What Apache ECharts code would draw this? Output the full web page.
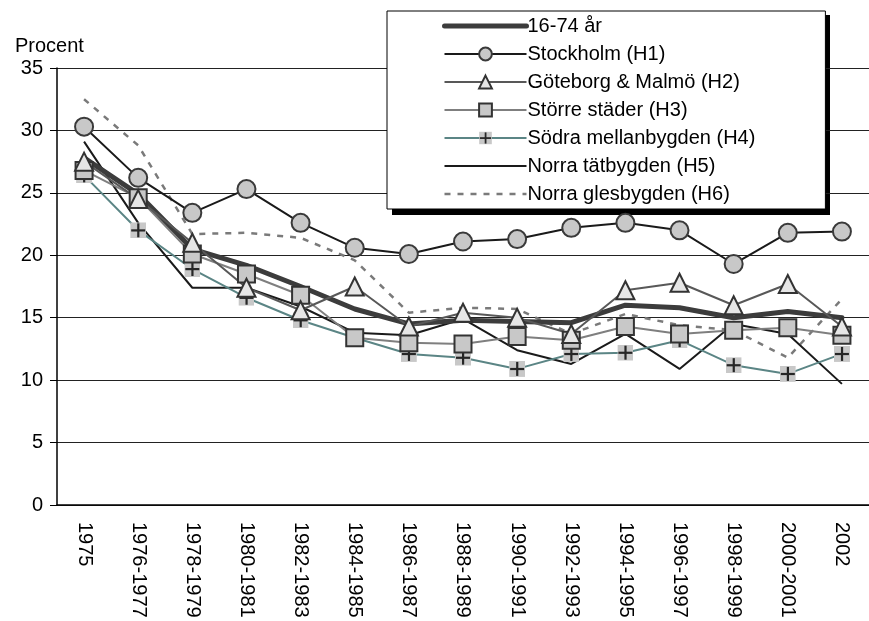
<!DOCTYPE html>
<html>
<head>
<meta charset="utf-8">
<script src="https://cdn.jsdelivr.net/npm/echarts@6/dist/echarts.min.js"></script>
<style>
html, body { margin: 0; padding: 0; background: #fff; }
#chart { width: 869px; height: 621px; }
</style>
</head>
<body>
<div id="chart"></div>
<script>
"use strict";

/*****Data*****/
var periods = ["1975", "1976-1977", "1978-1979", "1980-1981", "1982-1983", "1984-1985", "1986-1987",
	"1988-1989", "1990-1991", "1992-1993", "1994-1995", "1996-1997", "1998-1999", "2000-2001", "2002"];
var yTicks = [0, 5, 10, 15, 20, 25, 30, 35];

var total = [27.8, 24.9, 20.5, 19.2, 17.5, 15.7, 14.5, 14.8, 14.7, 14.6, 16.0, 15.8, 15.0, 15.5, 15.0];
var stockholm = [30.3, 26.2, 23.4, 25.3, 22.6, 20.6, 20.1, 21.1, 21.3, 22.2, 22.6, 22.0, 19.3, 21.8, 21.9];
var goteborg = [27.5, 24.5, 21.0, 17.4, 15.6, 17.5, 14.3, 15.4, 15.0, 13.7, 17.2, 17.8, 16.0, 17.7, 14.3];
var storre = [26.8, 24.6, 20.1, 18.5, 16.8, 13.4, 13.0, 12.9, 13.5, 13.2, 14.3, 13.7, 14.0, 14.2, 13.6];
var sodra = [26.4, 22.0, 18.9, 16.6, 14.8, 13.4, 12.1, 11.8, 10.9, 12.1, 12.2, 13.2, 11.2, 10.5, 12.1];
var norraTat = [29.1, 22.6, 17.4, 17.4, 15.9, 13.8, 13.6, 14.9, 12.4, 11.3, 13.7, 10.9, 14.5, 13.7, 9.7];
var norraGles = [32.5, 28.8, 21.7, 21.8, 21.4, 19.6, 15.4, 15.8, 15.7, 13.7, 15.3, 14.4, 14.0, 11.8, 16.5];

/*****Plus-on-grey-square marker*****/
var plusSvg = '<svg xmlns="http://www.w3.org/2000/svg" width="16" height="16" viewBox="0 0 16 16">' +
	'<rect x="0" y="0" width="16" height="16" fill="#c8c8c8"/>' +
	'<rect x="7" y="1" width="2.2" height="14" fill="#262626"/>' +
	'<rect x="1" y="7" width="14" height="2.2" fill="#262626"/></svg>';
var plusSymbol = 'image://data:image/svg+xml;charset=utf-8,' + encodeURIComponent(plusSvg);

var font = "'Liberation Sans', Arial, sans-serif";
var noSymbol = { opacity: 0 };

/*****Chart*****/
var chart = echarts.init(document.getElementById('chart'), null, { renderer: 'canvas' });

var option = {
	animation: false,
	textStyle: { fontFamily: font },
	title: {
		text: 'Procent',
		left: 10,
		top: 31,
		textStyle: { fontFamily: font, fontSize: 20, fontWeight: 'normal', color: '#000' }
	},
	// legend drop shadow
	graphic: [{
		type: 'rect',
		left: 392,
		top: 15,
		z: 0,
		shape: { width: 438, height: 200 },
		style: { fill: '#000' }
	}],
	grid: { left: 57, right: -15, top: 68, bottom: 116 },
	legend: {
		orient: 'vertical',
		left: 387,
		top: 11,
		padding: [5, 70, 5, 55],
		itemWidth: 82,
		itemHeight: 16,
		itemGap: 8,
		z: 10,
		backgroundColor: '#fff',
		borderColor: '#000',
		borderWidth: 1,
		textStyle: { fontFamily: font, fontSize: 20, color: '#000', padding: [0, 0, 0, -4] },
		data: [
			{ name: '16-74 år', itemStyle: noSymbol, lineStyle: { width: 5 } },
			'Stockholm (H1)',
			'Göteborg & Malmö (H2)',
			'Större städer (H3)',
			'Södra mellanbygden (H4)',
			{ name: 'Norra tätbygden (H5)', itemStyle: noSymbol },
			{ name: 'Norra glesbygden (H6)', itemStyle: noSymbol, lineStyle: { width: 2.5 } }
		]
	},
	xAxis: {
		type: 'category',
		data: periods,
		boundaryGap: true,
		axisLine: { lineStyle: { color: '#000', width: 1.5 } },
		axisTick: { show: false },
		axisLabel: {
			rotate: -90,
			interval: 0,
			margin: 17,
			color: '#000',
			fontSize: 20,
			fontFamily: font
		}
	},
	yAxis: {
		type: 'value',
		min: yTicks[0],
		max: yTicks[yTicks.length - 1],
		interval: 5,
		axisLine: { show: true, lineStyle: { color: '#000', width: 1.5 } },
		axisTick: { show: true, inside: false, length: 7, lineStyle: { color: '#000' } },
		axisLabel: { color: '#000', fontSize: 20, fontFamily: font, margin: 14 },
		splitLine: { lineStyle: { color: '#222', width: 1 } }
	},
	series: [
		{
			name: 'Norra glesbygden (H6)',
			type: 'line',
			data: norraGles,
			symbol: 'none',
			z: 2,
			lineStyle: { color: '#7a7a7a', width: 2.5, type: [6, 7] },
			itemStyle: { color: '#7a7a7a' }
		},
		{
			name: 'Norra tätbygden (H5)',
			type: 'line',
			data: norraTat,
			symbol: 'none',
			z: 2,
			lineStyle: { color: '#1a1a1a', width: 2 },
			itemStyle: { color: '#1a1a1a' }
		},
		{
			name: 'Södra mellanbygden (H4)',
			type: 'line',
			data: sodra,
			symbol: plusSymbol,
			symbolSize: 16,
			z: 3,
			lineStyle: { color: '#5b8585', width: 2 },
			itemStyle: { color: '#5b8585' }
		},
		{
			name: 'Större städer (H3)',
			type: 'line',
			data: storre,
			symbol: 'rect',
			symbolSize: 17,
			z: 4,
			lineStyle: { color: '#7f7f7f', width: 2 },
			itemStyle: { color: '#c8c8c8', borderColor: '#333', borderWidth: 2 }
		},
		{
			name: 'Göteborg & Malmö (H2)',
			type: 'line',
			data: goteborg,
			symbol: 'triangle',
			symbolSize: 18,
			z: 4,
			lineStyle: { color: '#585858', width: 2 },
			itemStyle: { color: '#e6e6e6', borderColor: '#333', borderWidth: 2 }
		},
		{
			name: '16-74 år',
			type: 'line',
			data: total,
			symbol: 'none',
			z: 3,
			lineStyle: { color: '#3c3c3c', width: 5, cap: 'round', join: 'round' },
			itemStyle: { color: '#3c3c3c' }
		},
		{
			name: 'Stockholm (H1)',
			type: 'line',
			data: stockholm,
			symbol: 'circle',
			symbolSize: 18,
			z: 5,
			lineStyle: { color: '#1a1a1a', width: 2 },
			itemStyle: { color: '#c8c8c8', borderColor: '#3a3a3a', borderWidth: 2 }
		}
	]
};

chart.setOption(option);
</script>
</body>
</html>
